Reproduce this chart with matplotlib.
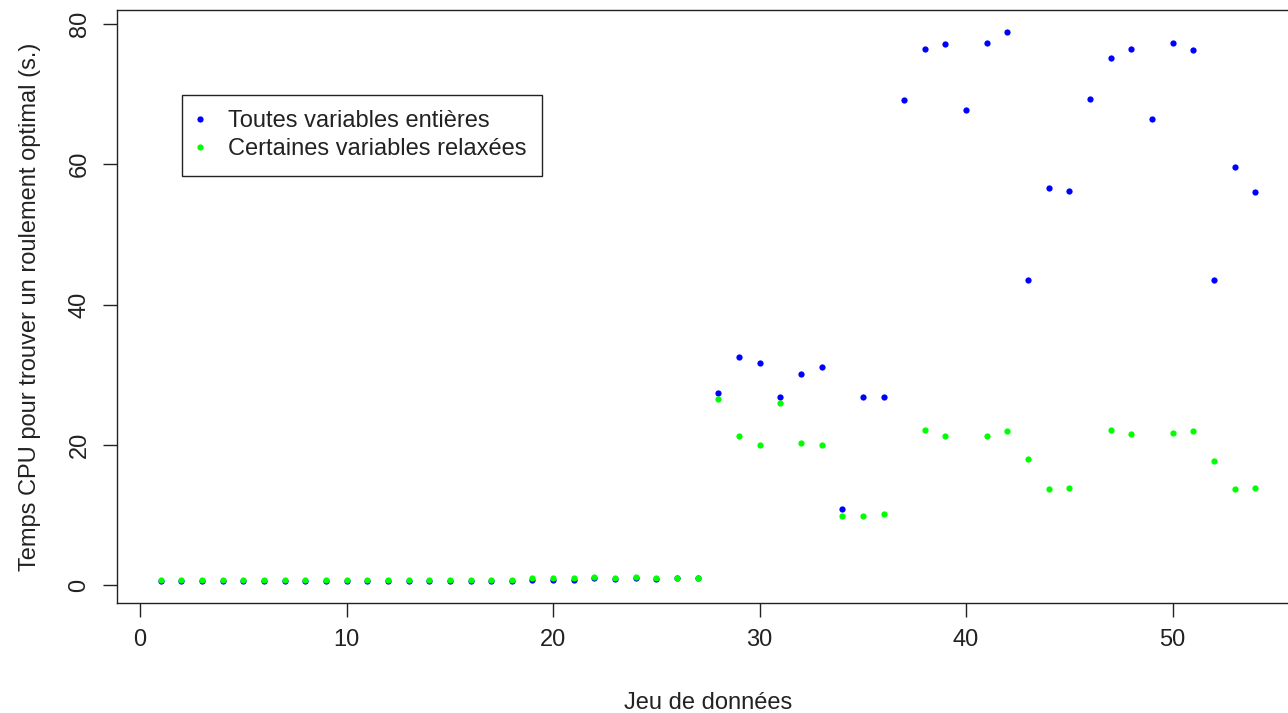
import numpy as np
import matplotlib.pyplot as plt

plt.rcParams['font.family'] = ['Liberation Sans', 'DejaVu Sans']

# Jeux de donnees 1..54
jeux = np.arange(1, 55)

# Temps CPU - toutes variables entieres
t_entieres = [0.5, 0.5, 0.5, 0.5, 0.5, 0.5, 0.5, 0.5, 0.5, 0.5,
              0.5, 0.5, 0.5, 0.5, 0.5, 0.5, 0.5, 0.5, 0.75, 0.75,
              0.75, 1.0, 0.8, 0.95, 0.8, 0.95, 1.0, 27.4, 32.5, 31.7,
              26.8, 30.1, 31.1, 10.9, 26.8, 26.8, 69.1, 76.5, 77.1, 67.8,
              77.3, 78.8, 43.5, 56.6, 56.2, 69.3, 75.2, 76.5, 66.4, 77.3,
              76.3, 43.5, 59.6, 56.0]

# Temps CPU - certaines variables relaxees (NaN = pas de point)
t_relaxees = [0.7, 0.7, 0.7, 0.7, 0.7, 0.7, 0.7, 0.7, 0.7, 0.7,
              0.7, 0.7, 0.7, 0.7, 0.7, 0.7, 0.7, 0.7, 0.95, 0.95,
              0.95, 1.2, 0.95, 1.2, 0.95, 0.95, 1.0, 26.5, 21.3, 20.0,
              25.9, 20.2, 20.0, 9.8, 9.8, 10.1, np.nan, 22.1, 21.3, np.nan,
              21.3, 21.9, 17.9, 13.7, 13.9, np.nan, 22.1, 21.5, np.nan, 21.7,
              21.9, 17.7, 13.7, 13.9]

W, H = 1288, 713
fig = plt.figure(figsize=(W / 100, H / 100), dpi=100)
ax = fig.add_axes([117 / W, (H - 603) / H, (1299 - 117) / W, (603 - 10) / H])

ax.plot(jeux, t_entieres, 'o', color='#0000ff', ms=4.5, mec='none',
        label='Toutes variables entières')
ax.plot(jeux, t_relaxees, 'o', color='#00ff00', ms=4.5, mec='none',
        label='Certaines variables relaxées')

ax.set_xlim(-1.12, 56.12)
ax.set_ylim(-2.57, 82.0)
ax.set_xticks([0, 10, 20, 30, 40, 50])
ax.set_yticks([0, 20, 40, 60, 80])
ax.tick_params(axis='both', direction='out', length=10, width=1,
               labelsize=17, colors='#222222')
ax.tick_params(axis='x', pad=9)
ax.tick_params(axis='y', pad=9)
for lab in ax.get_yticklabels():
    lab.set_rotation(90)
    lab.set_va('center')
for s in ax.spines.values():
    s.set_linewidth(1)
    s.set_color('#222222')

ax.set_xlabel('Jeu de données', fontsize=17, labelpad=29, color='#222222')
ax.set_ylabel('Temps CPU pour trouver un roulement optimal (s.)', fontsize=17,
              labelpad=20, color='#222222')

leg = ax.legend(loc='upper left', bbox_to_anchor=(182 / W, 1 - 95 / H),
                bbox_transform=fig.transFigure, borderaxespad=0,
                fancybox=False, edgecolor='#222222', fontsize=17,
                handletextpad=1.05, handlelength=0.25, borderpad=0.65,
                labelspacing=0.25, framealpha=1)
leg.get_frame().set_linewidth(1)
for t in leg.get_texts():
    t.set_color('#222222')

fig.savefig('out.png', dpi=100)
